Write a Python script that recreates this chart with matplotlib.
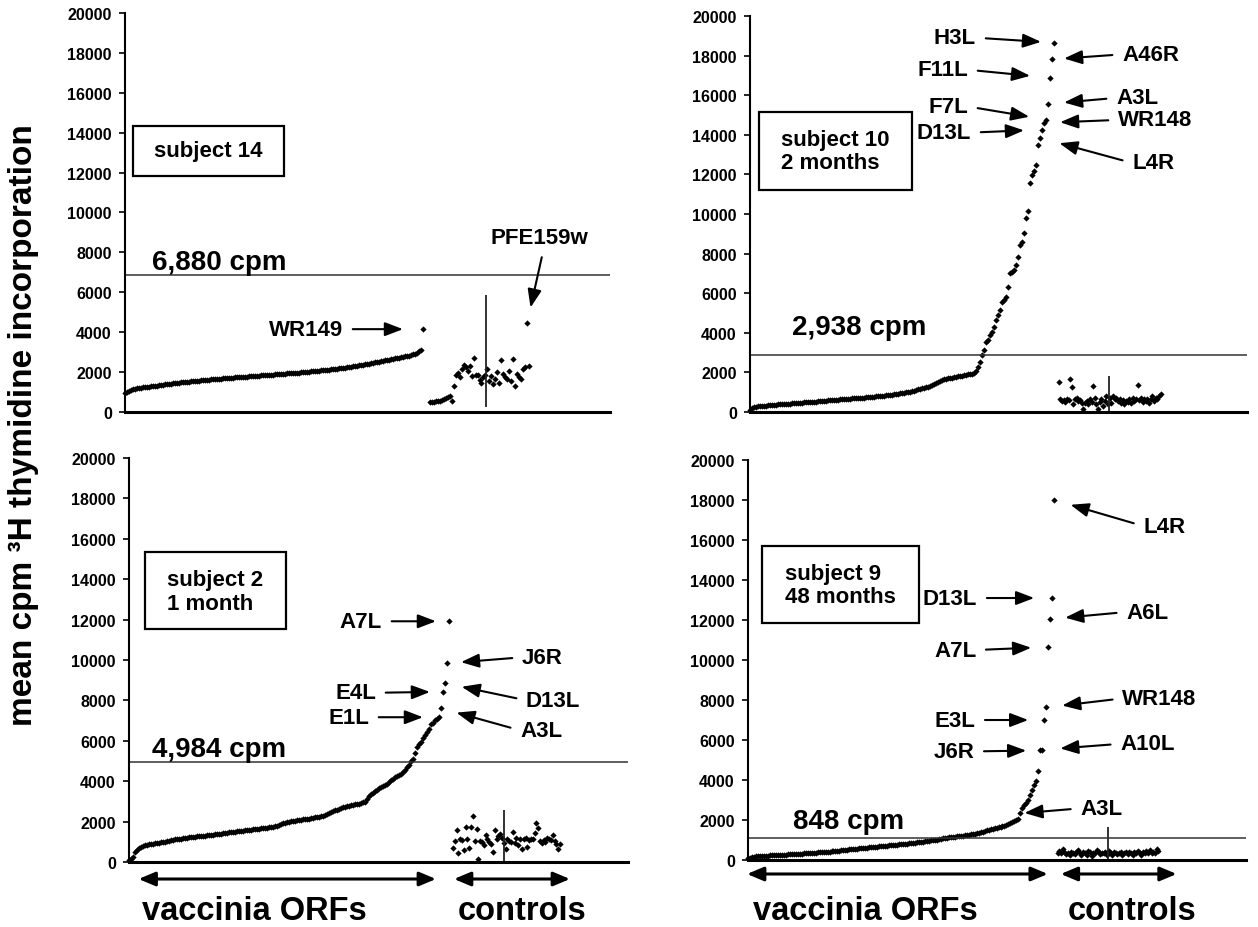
import numpy as np
import matplotlib
matplotlib.use('Agg')
from matplotlib import pyplot as plt
from matplotlib.patches import Rectangle

plt.rcParams['font.family'] = ['Liberation Sans', 'DejaVu Sans']
plt.rcParams['font.weight'] = 'bold'

# ---- data (mean cpm, sorted vaccinia ORFs, then controls) ----
s14_orfs = [950, 1010, 1060, 1100, 1130,
            1160, 1180, 1200, 1215, 1230, 1245, 1260, 1270, 1285, 1300,
            1310, 1325, 1340, 1350, 1365, 1380, 1395, 1410, 1420, 1435, 1450, 1460, 1470, 1480, 1495,
            1505, 1515, 1525, 1535, 1545, 1555, 1565, 1575, 1585, 1595, 1600, 1610, 1620, 1630, 1640,
            1645, 1655, 1665, 1670, 1680,
            1690, 1700, 1705, 1715, 1720, 1730, 1740, 1745, 1755, 1760, 1770, 1775, 1785, 1790, 1800,
            1805, 1815, 1820, 1830, 1835,
            1845, 1850, 1860, 1865, 1875, 1880, 1890, 1895, 1905, 1910, 1920, 1930, 1935, 1945, 1950,
            1960, 1970, 1975, 1985, 1995,
            2000, 2010, 2020, 2030, 2040, 2050, 2060, 2070, 2080, 2090, 2100, 2110, 2120, 2135, 2145,
            2160, 2170, 2185, 2195, 2210,
            2225, 2240, 2255, 2270, 2285, 2300, 2320, 2335, 2350, 2370, 2390, 2405, 2420, 2440, 2460,
            2480, 2500, 2520, 2540, 2560,
            2580, 2600, 2620, 2640, 2660, 2680, 2700, 2720, 2740, 2760, 2780, 2800, 2820, 2850, 2880,
            2920, 2970, 3040, 3100, 4150]
s14_ctrls = [500, 510, 520, 530, 540, 560, 600, 640, 700, 760, 820, 530, 1310, 1850, 1950,
             1730, 2150, 2350, 2230, 2070, 2280, 1815, 2690, 1850, 1850, 1610, 1445, 1730, 1850,
             2150, 1560, 1815, 1395, 1645, 2015, 1445, 2620, 1900, 1730, 1645, 2070, 1560, 2650,
             1310, 1900, 1730, 1645, 2150, 2230, 4450, 2280]

s10_orfs = [100, 200, 250,
            270, 280, 290, 300, 310, 320, 330, 340, 350, 360, 370, 380, 390, 395, 400, 410, 420,
            425, 430, 440, 450, 455, 460, 470, 480, 485, 490, 500, 510, 515, 520, 530, 540, 550,
            560, 570, 580,
            590, 600, 605, 610, 620, 630, 640, 645, 650, 660, 670, 680, 690, 700, 705, 710, 720,
            730, 740, 750,
            760, 770, 780, 790, 800, 810, 820, 830, 840, 850, 865, 880, 895, 910, 925, 940, 955,
            970, 990, 1010,
            1030, 1050, 1080, 1110, 1140, 1160, 1190, 1210, 1240, 1265,
            1300, 1350, 1400, 1450, 1500, 1550, 1600, 1640, 1670, 1690,
            1710, 1730, 1760, 1780, 1800, 1820, 1840, 1860, 1880, 1900, 1920, 1940, 1970, 2060,
            2280, 2530, 2870, 3120, 3540, 3630, 3900, 4050, 4300, 4640, 4900, 5150, 5570, 5650,
            5820, 6330, 7000, 7090, 7170, 7430, 7850, 8440, 8600, 9030, 9790, 10130, 11560, 11980,
            12150, 12490, 13500, 13840, 14260, 14600, 14770, 15560, 16880, 17810, 18650]
s10_ctrls = [1536, 641, 557, 608, 506, 641, 608, 1654, 1283, 388, 641, 726, 557, 608, 473, 135,
             439, 557, 388, 641, 506, 1317, 726, 388, 135, 506, 641, 304, 557, 810, 388, 726, 473,
             810, 641, 726, 557, 641, 473, 608, 388, 557, 506, 641, 473, 726, 557, 641, 1350, 608,
             726, 506, 675, 557, 641, 439, 675, 810, 557, 726, 641, 810, 895]

s2_orfs = [80, 170, 250, 500, 600, 690, 750, 790, 830,
           850, 870, 890, 910, 930, 950,
           965, 980, 995, 1010, 1030, 1050, 1070, 1100,
           1120, 1135, 1150, 1165, 1180, 1195, 1210, 1225,
           1240, 1250, 1260, 1270, 1280, 1290, 1300, 1310, 1315,
           1320, 1335, 1350, 1365, 1380, 1395, 1410, 1425,
           1440, 1450, 1465, 1480, 1495, 1510, 1520, 1530,
           1540, 1550, 1565, 1580, 1590, 1605, 1620, 1630, 1640,
           1650, 1665, 1680, 1695, 1710, 1725, 1740, 1755,
           1770, 1800, 1840, 1880, 1920, 1950, 1980, 2000,
           2020, 2035, 2050, 2065, 2080, 2095, 2110, 2125, 2140,
           2150, 2170, 2190, 2210, 2230, 2250, 2270, 2290,
           2310, 2360, 2410, 2460, 2510,
           2560, 2600, 2640, 2680, 2710,
           2730, 2760, 2790, 2810, 2840, 2860, 2880,
           2890, 2920, 2950, 2980, 3100,
           3270, 3350, 3420, 3500, 3580, 3650,
           3720, 3780, 3830, 3880, 3960, 4050, 4130,
           4200, 4250, 4300, 4380, 4460, 4550,
           4700, 4790, 5000, 5120, 5420, 5700, 5850,
           5950, 6120, 6280, 6450, 6610, 6810, 6900, 7030, 7100,
           7170, 7610, 8430, 8850, 9840, 11920]
s2_ctrls = [678, 1041, 1570, 463, 1157, 1091, 595, 1752, 1157, 711, 1719, 2281, 1058, 1653, 132,
            1041, 992, 826, 1322, 1124, 992, 876, 496, 1570, 1157, 1289, 1405, 1207, 959, 661,
            1124, 1041, 992, 1504, 959, 1207, 843, 1124, 628, 1124, 1207, 744, 1091, 1124, 1157,
            1455, 1950, 1702, 1041, 926, 1091, 992, 1190, 1124, 1074, 1355, 1041, 876, 628, 876]

s9_orfs = [83, 120, 150, 167,
           180, 190, 200, 205, 210, 215, 220, 225, 230, 235, 240, 250,
           255, 260, 265, 270, 280, 285, 290, 295, 300, 310, 315, 320, 330, 335, 340, 350, 360,
           365, 370, 380, 385, 390, 400, 410, 415, 420, 430, 440, 450, 460, 470, 485, 500,
           510, 520, 530, 540, 550, 560, 570, 580, 590, 600, 610, 620, 630, 640, 650, 660, 667,
           675, 685, 695, 705, 715, 725, 735, 745, 755, 765, 775, 785, 795, 805, 815, 825, 833,
           845, 860, 875, 890, 905, 920, 935, 950, 965, 980, 995, 1010, 1025, 1040, 1060, 1083,
           1100, 1115, 1130, 1145, 1160, 1170, 1180, 1190, 1200, 1215, 1230, 1245, 1260, 1280,
           1300, 1320, 1333,
           1360, 1390, 1420, 1450, 1480, 1510, 1540, 1560, 1583, 1610, 1640, 1670, 1700, 1725, 1750,
           1800, 1850, 1917, 1960, 2000, 2033,
           2333, 2583, 2750, 2850, 3000, 3250, 3500, 3750, 3950, 4450, 5480, 5510, 7000, 7630,
           10650, 12050, 13100, 18000]
s9_ctrls = [367, 467, 333, 533, 417, 300, 367, 250, 417, 333, 283, 417, 500, 333, 233, 400, 333,
            267, 467, 400, 200, 367, 333, 500, 417, 283, 367, 333, 400, 267, 433, 367, 250, 417,
            333, 300, 367, 400, 267, 333, 417, 283, 383, 333, 233, 400, 333, 467, 367, 267, 400,
            333, 467, 367, 500, 333, 417, 367, 533, 467]

cutoff_levels = [6850, 2900, 4930, 1100]
cutoff_texts = ['6,880 cpm', '2,938 cpm', '4,984 cpm', '848 cpm']
subjects = ['subject 14', 'subject 10\n2 months', 'subject 2\n1 month', 'subject 9\n48 months']

# labelled ORFs: (name, which series, index, dx px, dy px, gap px)
s14_labels = [('WR149', 'orf', -1, -80, 0, 20), ('PFE159w', 'ctrl', 49, 12, -86, 16)]
s10_labels = [('H3L', 'orf', -1, -78, -5, 13), ('A46R', 'orf', -2, 70, -5, 12),
              ('F11L', 'orf', -3, -82, -8, 20), ('A3L', 'orf', -4, 68, -6, 16),
              ('F7L', 'orf', -5, -78, -13, 17), ('WR148', 'orf', -6, 74, -3, 16),
              ('D13L', 'orf', -7, -71, 3, 18), ('L4R', 'orf', -8, 92, 25, 20)]
s2_labels = [('A7L', 'orf', -1, -67, 0, 13), ('J6R', 'orf', -2, 75, -6, 14),
             ('D13L', 'orf', -3, 81, 17, 17), ('E4L', 'orf', -4, -67, 1, 13),
             ('A3L', 'orf', -5, 79, 22, 16), ('E1L', 'orf', -6, -70, 0, 16)]
s9_labels = [('L4R', 'orf', -1, 89, 26, 17), ('D13L', 'orf', -2, -75, 0, 18),
             ('A6L', 'orf', -3, 76, -7, 15), ('A7L', 'orf', -4, -72, 3, 17),
             ('WR148', 'orf', -5, 76, -9, 16), ('E3L', 'orf', -6, -69, 0, 16),
             ('A10L', 'orf', -7, 78, -6, 18), ('J6R', 'orf', -8, -66, 1, 14),
             ('A3L', 'orf', -18, 60, -5, 4)]

# ---- layout (pixel-derived) ----
panels = [
    dict(orfs=s14_orfs, ctrls=s14_ctrls, labels=s14_labels,
         rect=[0.0994, 0.5550, 0.3855, 0.4300], xmax=242.5,
         ctrl_span=(152.5, 202), mid=(180.5, 270, 5850), cut_xy=(13.5, 7520),
         box=(0.0165, 0.591, 0.3115, 0.126), box_txt=(0.172, 0.656, 'center'), bottom=None),
    dict(orfs=s10_orfs, ctrls=s10_ctrls, labels=s10_labels,
         rect=[0.5962, 0.5550, 0.3951, 0.4267], xmax=248.5,
         ctrl_span=(154.3, 205.3), mid=(179.3, 0, 1820), cut_xy=(21, 4290),
         box=(0.018, 0.561, 0.308, 0.196), box_txt=(0.063, 0.659, 'left'), bottom=None),
    dict(orfs=s2_orfs, ctrls=s2_ctrls, labels=s2_labels,
         rect=[0.1025, 0.0700, 0.3967, 0.4353], xmax=249.5,
         ctrl_span=(162, 215.5), mid=(187.5, 0, 2580), cut_xy=(11.5, 5590),
         box=(0.032, 0.577, 0.283, 0.191), box_txt=(0.077, 0.670, 'left'),
         bottom=dict(y=-0.042, ty=-0.1205, orf=(4.8, 153.5), ctl=(162.5, 220.5), tx=(62.5, 196.5))),
    dict(orfs=s9_orfs, ctrls=s9_ctrls, labels=s9_labels,
         rect=[0.5946, 0.0722, 0.3959, 0.4310], xmax=250.5,
         ctrl_span=(155.7, 206.4), mid=(181, 0, 1667), cut_xy=(22.6, 1965),
         box=(0.029, 0.5925, 0.315, 0.1935), box_txt=(0.075, 0.688, 'left'),
         bottom=dict(y=-0.035, ty=-0.127, orf=(-0.5, 150.8), ctl=(157.3, 215.6), tx=(58.8, 193.2))),
]

PX = 0.72  # points per pixel at dpi 100

fig = plt.figure(figsize=(12.58, 9.28), dpi=100)

for i, p in enumerate(panels):
    ax = fig.add_axes(p['rect'])
    orfs = np.array(p['orfs'])
    ctrls = np.array(p['ctrls'])
    x_orf = np.arange(len(orfs))
    x_ctl = np.linspace(p['ctrl_span'][0], p['ctrl_span'][1], len(ctrls))

    ax.plot(x_orf, orfs, 'D', ms=3.2, mew=0, color='black', clip_on=False)
    ax.plot(x_ctl, ctrls, 'D', ms=3.2, mew=0, color='black', clip_on=False)
    ax.vlines(p['mid'][0], p['mid'][1], p['mid'][2], color='#222222', lw=1.3)
    ax.axhline(cutoff_levels[i], color='#333333', lw=1.1)
    ax.text(p['cut_xy'][0], p['cut_xy'][1], cutoff_texts[i], fontsize=20,
            ha='left', va='center', color='black')

    ax.set_xlim(0, p['xmax'])
    ax.set_ylim(0, 20000)
    ax.set_yticks(np.arange(0, 20001, 2000))
    ax.set_xticks([])
    ax.tick_params(axis='y', length=4.5, width=1.2, pad=5, labelsize=11.5)
    for lab in ax.get_yticklabels():
        lab.set_fontweight('bold')
    ax.spines['top'].set_visible(False)
    ax.spines['right'].set_visible(False)
    ax.spines['left'].set_linewidth(1.5)
    ax.spines['bottom'].set_linewidth(2.2)
    ax.patch.set_alpha(0)

    bx, by, bw, bh = p['box']
    ax.add_patch(Rectangle((bx, by), bw, bh, transform=ax.transAxes, fill=False,
                           lw=1.6, color='black', clip_on=False))
    tx, ty, tha = p['box_txt']
    ax.text(tx, ty, subjects[i], transform=ax.transAxes, ha=tha, va='center',
            fontsize=16, linespacing=1.15)

    for name, series, idx, dx, dy, gap in p['labels']:
        if series == 'orf':
            px, py = x_orf[idx], orfs[idx]
        else:
            px, py = x_ctl[idx], ctrls[idx]
        if abs(dy) > 50:
            ha, rel = 'center', (0.55, 0.0)
        elif dx < 0:
            ha, rel = 'right', (1.0, 0.5)
        else:
            ha, rel = 'left', (0.0, 0.5)
        ax.annotate(name, xy=(px, py), xytext=(dx * PX, -dy * PX), textcoords='offset points',
                    ha=ha, va='center', fontsize=16,
                    arrowprops=dict(arrowstyle='-|>,head_length=1.1,head_width=0.42',
                                    mutation_scale=10, color='black', lw=1.5,
                                    shrinkA=5, shrinkB=gap * PX, relpos=rel))

    b = p['bottom']
    if b is not None:
        tr = ax.get_xaxis_transform()
        for (x0, x1) in (b['orf'], b['ctl']):
            ax.annotate('', xy=(x1, b['y']), xytext=(x0, b['y']), xycoords=tr, textcoords=tr,
                        arrowprops=dict(arrowstyle='<|-|>,head_length=1.0,head_width=0.42',
                                        mutation_scale=10, color='black', lw=2.2,
                                        shrinkA=0, shrinkB=0))
        ax.text(b['tx'][0], b['ty'], 'vaccinia ORFs', transform=tr, ha='center', va='center',
                fontsize=23.5)
        ax.text(b['tx'][1], b['ty'], 'controls', transform=tr, ha='center', va='center',
                fontsize=23.5)

fig.text(24 / 1258, 1 - 425 / 928, 'mean cpm ³H thymidine incorporation', rotation=90,
         ha='center', va='center', fontsize=24)

fig.savefig('out.png', dpi=100)
